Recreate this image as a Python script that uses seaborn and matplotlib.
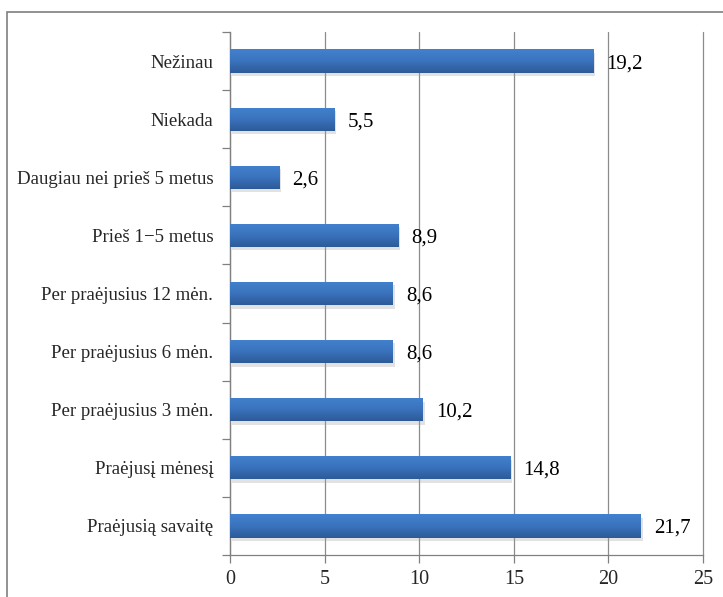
import numpy as np
import pandas as pd
import matplotlib
matplotlib.use("Agg")
import matplotlib.pyplot as plt
import matplotlib.patheffects as pe
from matplotlib.colors import LinearSegmentedColormap
from matplotlib.patches import Rectangle
import seaborn as sns

categories = [
    "Nežinau",
    "Niekada",
    "Daugiau nei prieš 5 metus",
    "Prieš 1\u22125 metus",
    "Per praėjusius 12 mėn.",
    "Per praėjusius 6 mėn.",
    "Per praėjusius 3 mėn.",
    "Praėjusį mėnesį",
    "Praėjusią savaitę",
]
values = [19.2, 5.5, 2.6, 8.9, 8.6, 8.6, 10.2, 14.8, 21.7]
value_labels = ["19,2", "5,5", "2,6", "8,9", "8,6", "8,6", "10,2", "14,8", "21,7"]
x_ticks = [0, 5, 10, 15, 20, 25]

df = pd.DataFrame({"category": categories, "value": values})

sns.set_style("white")
plt.rcParams["font.family"] = ["Liberation Serif", "DejaVu Serif"]

W, H = 723, 597
fig = plt.figure(figsize=(W / 100, H / 100), dpi=100)
ax = fig.add_axes([230 / W, 1 - 555 / H, (703 - 230) / W, (555 - 32) / H])

sns.barplot(data=df, x="value", y="category", order=categories, orient="h",
            width=0.4, color="#3a72bb", ax=ax, zorder=3)

# vertical gradient fill (lighter on top) with a soft drop shadow on each bar
cmap = LinearSegmentedColormap.from_list("bluegrad", ["#4281cf", "#3a73bd", "#2d5b99"])
grad = np.linspace(0, 1, 64).reshape(-1, 1)
for patch in ax.patches:
    x0, y0 = patch.get_x(), patch.get_y()
    w, h = patch.get_width(), patch.get_height()
    patch.set_edgecolor("none")
    patch.set_path_effects([pe.SimplePatchShadow(offset=(1.5, -2.5), shadow_rgbFace="#a0a0a0", alpha=0.3),
                            pe.Normal()])
    im = ax.imshow(grad, cmap=cmap, aspect="auto", extent=(x0, x0 + w, y0 + h, y0),
                   origin="upper", zorder=4, interpolation="bilinear")
    im.set_clip_path(patch)

for i, (v, lab) in enumerate(zip(values, value_labels)):
    ax.annotate(lab, xy=(v, i), xytext=(9.5, 0), textcoords="offset points",
                ha="left", va="center_baseline", fontsize=15, color="black", zorder=6)

ax.set_xlim(0, 25)
ax.set_ylim(len(categories) - 0.5, -0.5)
ax.set_xticks(x_ticks)
ax.set_xticklabels([str(t) for t in x_ticks], fontsize=14.5)
ax.set_yticks(range(len(categories)))
ax.set_yticklabels(categories, fontsize=13.6)
ax.set_yticks(np.arange(-0.5, len(categories), 1.0), minor=True)
ax.tick_params(axis="both", which="both", left=True, bottom=True)
ax.tick_params(axis="y", which="major", length=0, pad=12)
ax.tick_params(axis="y", which="minor", length=6, width=0.9, color="#808080", direction="out")
ax.tick_params(axis="x", which="major", length=6, width=0.9, color="#808080",
               direction="out", pad=5)
ax.set_xlabel("")
ax.set_ylabel("")

ax.grid(axis="x", color="#8c8c8c", linewidth=0.9, zorder=0)
ax.grid(axis="y", visible=False)
for gl in ax.get_xgridlines():
    gl.set_clip_on(False)
for side in ["top", "right"]:
    ax.spines[side].set_visible(False)
for side in ["left", "bottom"]:
    ax.spines[side].set_color("#808080")
    ax.spines[side].set_linewidth(0.9)

# outer chart-area frame
fig.patches.append(Rectangle((7 / W, -0.05), 1.1, 1.05 - 12 / H, transform=fig.transFigure,
                             fill=False, edgecolor="#7f7f7f", linewidth=1.2))

fig.savefig("out.png", dpi=100)
